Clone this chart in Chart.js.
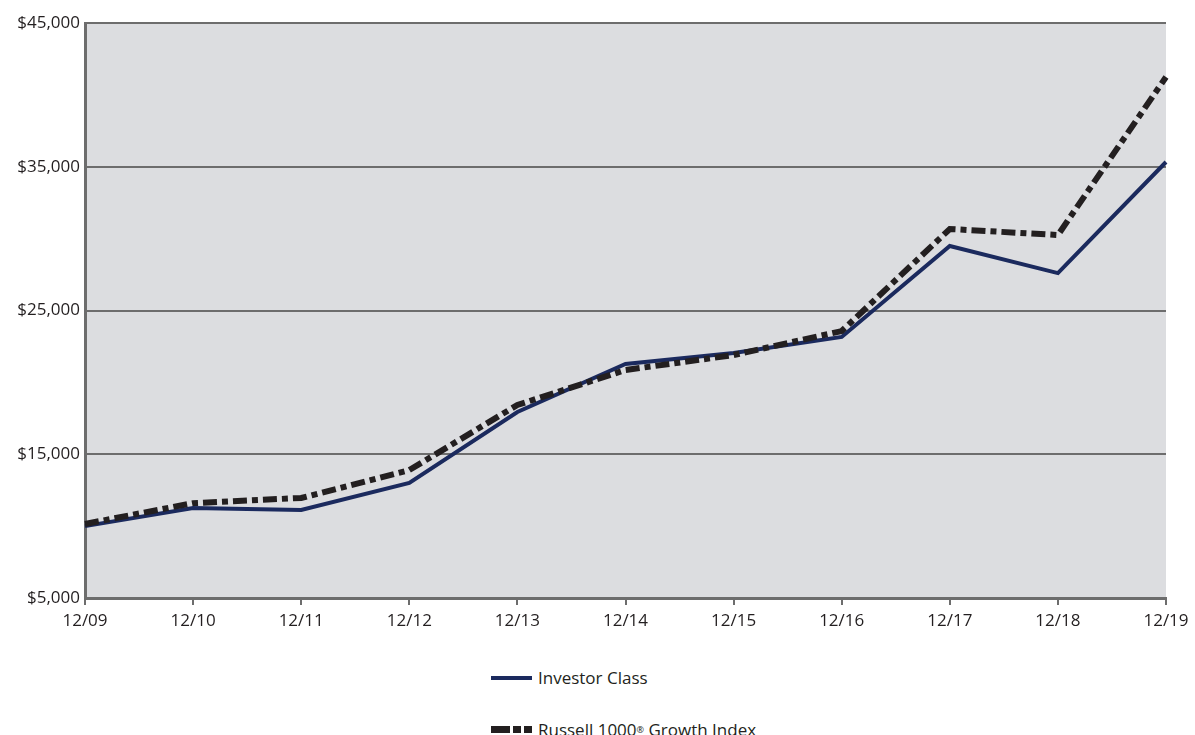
<!DOCTYPE html>
<html>
<head>
<meta charset="utf-8">
<script src="https://cdn.jsdelivr.net/npm/chart.js@4"></script>
<style>
  body { margin: 0; background: #fff; font-family: "Open Sans", sans-serif; }
  #wrap { position: relative; width: 1195px; height: 735px; overflow: hidden; }
  #chart { position: absolute; left: 0; top: 0; }
  .legend-item { position: absolute; left: 491px; display: flex; align-items: center; font-size: 17px; color: #231f20; }
  .swatch { width: 41px; height: 4px; margin-right: 6px; }
  .solid { background: #1b2a5e; }
  .dashed { height: 7px; background: linear-gradient(90deg, #231f20 0 19px, transparent 19px 22px, #231f20 22px 30px, transparent 30px 33px, #231f20 33px 41px); }
  sup { font-size: 9px; }
</style>
</head>
<body>
<div id="wrap">
  <canvas id="chart" width="1195" height="640"></canvas>
  <div class="legend-item" style="top:666px"><span class="swatch solid"></span>Investor Class</div>
  <div class="legend-item" style="top:718px"><span class="swatch dashed"></span>Russell 1000<sup>®</sup>&nbsp;Growth Index</div>
</div>
<script>
const labels = ['12/09', '12/10', '12/11', '12/12', '12/13', '12/14', '12/15', '12/16', '12/17', '12/18', '12/19'];
const investorClass = [10000, 11260, 11120, 13000, 17940, 21280, 22040, 23160, 29490, 27600, 35330];
const russellGrowth = [10150, 11600, 11960, 13900, 18430, 20860, 21900, 23570, 30670, 30250, 41240];

// grey plot background
const plotBg = {
    id: 'plotBg',
    beforeDraw(chart) {
        const a = chart.chartArea;
        const ctx = chart.ctx;
        ctx.save();
        ctx.fillStyle = '#dcdde0';
        ctx.fillRect(a.left, a.top, a.right - a.left, a.bottom - a.top);
        ctx.restore();
    }
};

new Chart(document.getElementById('chart'), {
    type: 'line',
    data: {
        labels: labels,
        datasets: [
            {
                label: 'Russell 1000® Growth Index',
                data: russellGrowth,
                borderColor: '#231f20',
                borderWidth: 6,
                borderDash: [14, 5, 6, 5],
                pointRadius: 0,
                tension: 0
            },
            {
                label: 'Investor Class',
                data: investorClass,
                borderColor: '#1b2a5e',
                borderWidth: 4,
                pointRadius: 0,
                tension: 0
            }
        ]
    },
    options: {
        responsive: false,
        animation: false,
        layout: { padding: { top: 23, right: 29, left: 0, bottom: 0 } },
        plugins: { legend: { display: false }, tooltip: { enabled: false } },
        scales: {
            x: {
                offset: false,
                grid: { drawOnChartArea: false, drawTicks: true, tickLength: 7, color: '#6d6d6d', lineWidth: 2 },
                border: { color: '#6d6d6d', width: 3 },
                ticks: { color: '#231f20', font: { family: 'Open Sans', size: 17 }, padding: 6, maxRotation: 0, autoSkip: false },
                afterFit(scale) { scale.height = 42; }
            },
            y: {
                min: 5000,
                max: 45000,
                grid: { color: '#6d6d6d', lineWidth: 2, drawTicks: false },
                border: { color: '#6d6d6d', width: 3 },
                ticks: {
                    stepSize: 10000,
                    color: '#231f20',
                    font: { family: 'Open Sans', size: 17 },
                    padding: 5,
                    callback: v => '$' + v.toLocaleString('en-US')
                },
                afterFit(scale) { scale.width = 85; }
            }
        }
    },
    plugins: [plotBg]
});
</script>
</body>
</html>
